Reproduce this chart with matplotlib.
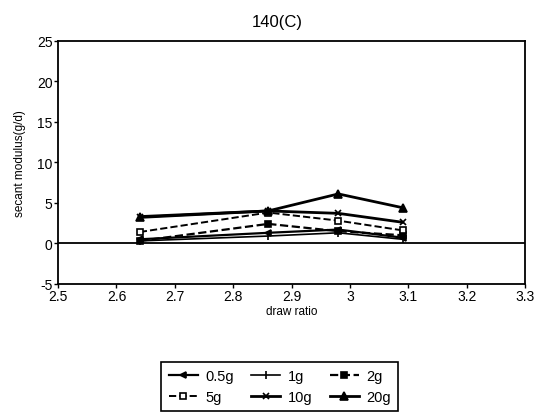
import matplotlib
matplotlib.use("Agg")
import matplotlib.pyplot as plt

plt.rcParams["font.family"] = ["Liberation Sans", "DejaVu Sans"]
plt.rcParams["axes.unicode_minus"] = False

# Donnees
draw_ratio = [2.64, 2.86, 2.98, 3.09]

mod_05g = [0.5, 1.3, 1.7, 0.7]
mod_1g = [0.3, 0.9, 1.3, 0.5]
mod_2g = [0.3, 2.4, 1.5, 1.0]
mod_5g = [1.4, 3.8, 2.8, 1.6]
mod_10g = [3.2, 4.0, 3.7, 2.6]
mod_20g = [3.3, 4.0, 6.1, 4.4]

labels = ["0.5g", "1g", "2g", "5g", "10g", "20g"]
x_ticks = [2.5, 2.6, 2.7, 2.8, 2.9, 3.0, 3.1, 3.2, 3.3]
x_tick_labels = ["2.5", "2.6", "2.7", "2.8", "2.9", "3", "3.1", "3.2", "3.3"]
y_ticks = [-5, 0, 5, 10, 15, 20, 25]

fig = plt.figure(figsize=(5.38, 4.14), dpi=100)
ax = fig.add_axes([0.108, 0.312, 0.868, 0.587])

# Ligne du zero
ax.axhline(0, color="black", lw=1.3, zorder=1)

styles = [
    (mod_05g, dict(marker="<", ms=4, ls="-", lw=1.6, mfc="black")),
    (mod_1g, dict(marker="|", ms=6, ls="-", lw=1.2, mfc="black")),
    (mod_2g, dict(marker="s", ms=5, ls="--", lw=1.6, mfc="black")),
    (mod_5g, dict(marker="s", ms=5, ls="--", lw=1.4, mfc="white")),
    (mod_10g, dict(marker="x", ms=5, ls="-", lw=2.0, mfc="black")),
    (mod_20g, dict(marker="^", ms=6, ls="-", lw=2.0, mfc="black")),
]

handles = []
for (valeurs, st), lab in zip(styles, labels):
    h, = ax.plot(draw_ratio, valeurs, color="black", mec="black",
                 mew=1.2, label=lab, zorder=3, **st)
    handles.append(h)

ax.set_xlim(2.5, 3.3)
ax.set_ylim(-5, 25)
ax.set_xticks(x_ticks)
ax.set_xticklabels(x_tick_labels)
ax.set_yticks(y_ticks)
ax.tick_params(direction="out", length=3, width=1, labelsize=10, pad=1)

for sp in ax.spines.values():
    sp.set_linewidth(1.3)

fig.text(0.515, 0.945, "140(C)", fontsize=12, ha="center", va="center")
ax.set_xlabel("draw ratio", fontsize=8.5, labelpad=1)
ax.set_ylabel("secant modulus(g/d)", fontsize=8.5, labelpad=8)

# Legende : 3 colonnes remplies par ligne
ordre = [0, 3, 1, 4, 2, 5]
leg = fig.legend([handles[i] for i in ordre], [labels[i] for i in ordre],
                 ncol=3, loc="center", bbox_to_anchor=(0.52, 0.064),
                 fontsize=10.5, fancybox=False, edgecolor="black",
                 framealpha=1, handlelength=2.0, columnspacing=1.2,
                 handletextpad=0.5, borderpad=0.5, labelspacing=0.5)
leg.get_frame().set_linewidth(1.2)

fig.savefig("out.png", dpi=100)
